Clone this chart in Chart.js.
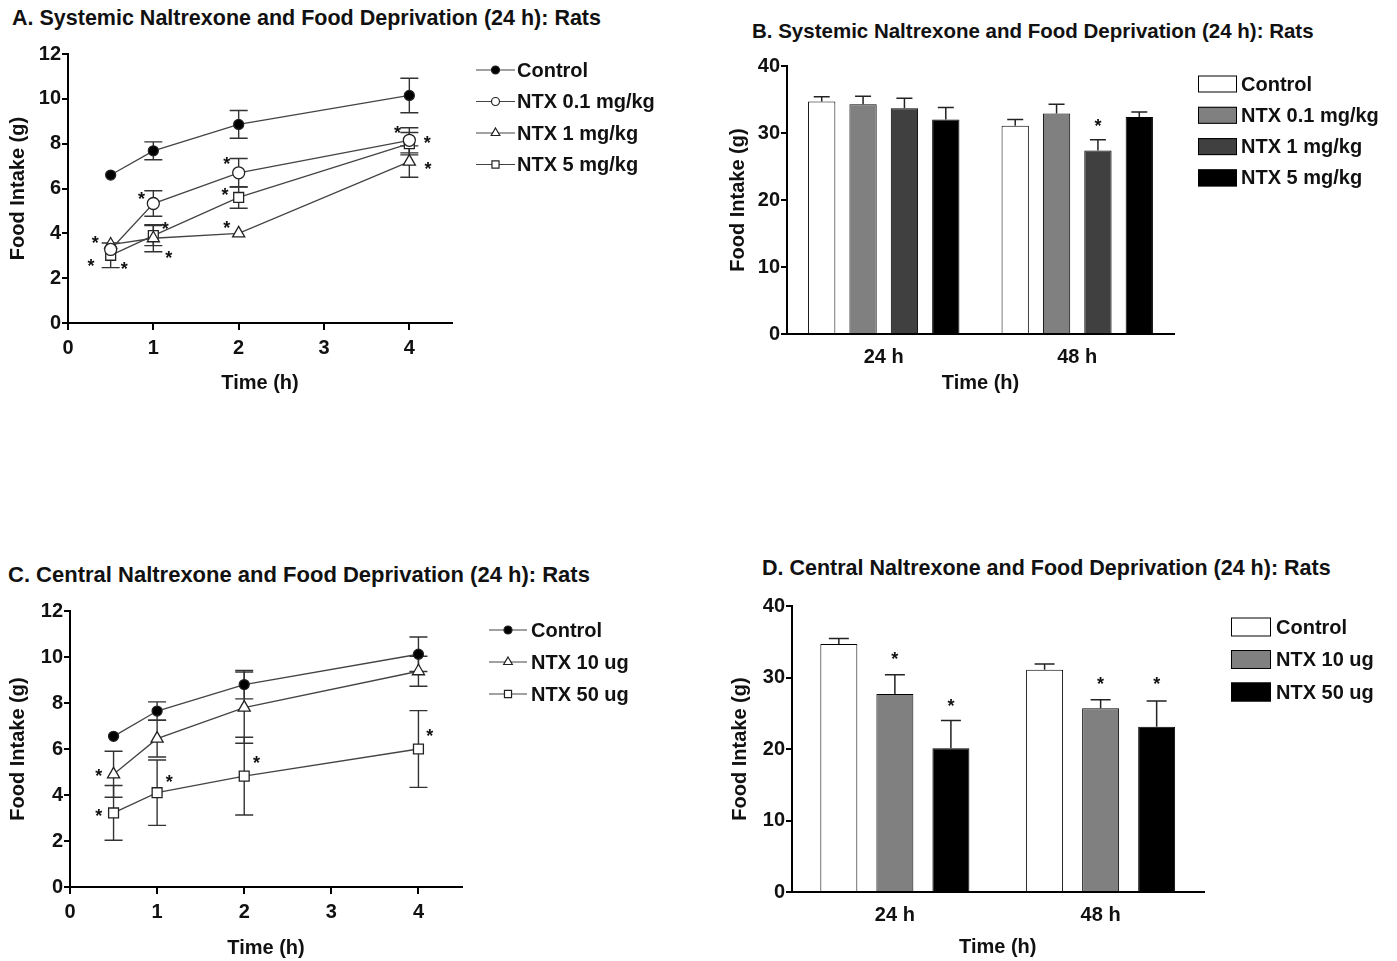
<!DOCTYPE html>
<html>
<head>
<meta charset="utf-8">
<script src="https://cdn.jsdelivr.net/npm/chart.js@4.4.1/dist/chart.umd.min.js"></script>
<style>
  body { margin: 0; background: #fff; width: 1397px; height: 961px; position: relative; overflow: hidden;
         font-family: "Liberation Sans", Arial, sans-serif; }
  canvas { position: absolute; }
  .ttl { position: absolute; font-weight: bold; white-space: nowrap; color: #111; line-height: 24px; }
</style>
</head>
<body>
<div class="ttl" style="left:12px;top:6px;font-size:21.5px">A. Systemic Naltrexone and Food Deprivation (24 h): Rats</div>
<div class="ttl" style="left:752px;top:19px;font-size:20.5px">B. Systemic Naltrexone and Food Deprivation (24 h): Rats</div>
<div class="ttl" style="left:8px;top:563px;font-size:22px">C. Central Naltrexone and Food Deprivation (24 h): Rats</div>
<div class="ttl" style="left:762px;top:556px;font-size:21.5px">D. Central Naltrexone and Food Deprivation (24 h): Rats</div>

<canvas id="chartA" width="700" height="360" style="left:0;top:40px"></canvas>
<canvas id="chartB" width="697" height="360" style="left:700px;top:40px"></canvas>
<canvas id="chartC" width="700" height="366" style="left:0;top:595px"></canvas>
<canvas id="chartD" width="697" height="376" style="left:700px;top:585px"></canvas>

<script>
// --- données ---
const timePoints = [0.5, 1, 2, 4];
const timeTicks = [0, 1, 2, 3, 4];
const lineYTicks = [0, 2, 4, 6, 8, 10, 12];
const barYTicks = [0, 10, 20, 30, 40];

// A. naltrexone systémique (courbe)
const aControl = [6.6, 7.68, 8.86, 10.15];
const aControlErr = [0, 0.4, 0.62, 0.77];
const aNtx01 = [3.28, 5.33, 6.7, 8.15];
const aNtx01Err = [0, 0.57, 0.64, 0.56];
const aNtx1 = [3.5, 3.78, 4.0, 7.2];
const aNtx1Err = [0, 0.6, 0, 0.7];
const aNtx5 = [3.02, 3.9, 5.6, 8.0];
const aNtx5Err = [0.55, 0.45, 0.48, 0.5];
const aStars = [[0.32, 3.78], [0.27, 2.75], [0.66, 2.62], [0.86, 5.74], [1.14, 4.4], [1.18, 3.1],
                [1.86, 7.3], [1.84, 5.92], [1.86, 4.45], [3.86, 8.65], [4.21, 8.2], [4.22, 7.08]];

// B. naltrexone systémique (barres)
const barCats = ['24 h', '48 h'];
const bControl = [34.7, 31.1];
const bControlErr = [0.7, 0.9];
const bNtx01 = [34.3, 32.9];
const bNtx01Err = [1.2, 1.4];
const bNtx1 = [33.7, 27.4];
const bNtx1Err = [1.5, 1.6];
const bNtx5 = [32.0, 32.4];
const bNtx5Err = [1.8, 0.75];
const bStars = [[2, 1, 31.7]];

// C. naltrexone centrale (courbe)
const cControl = [6.55, 7.65, 8.8, 10.12];
const cControlErr = [0, 0.4, 0.62, 0.75];
const cNtx10 = [4.9, 6.45, 7.8, 9.38];
const cNtx10Err = [1.0, 0.8, 1.55, 0.65];
const cNtx50 = [3.22, 4.1, 4.82, 6.0];
const cNtx50Err = [1.19, 1.42, 1.69, 1.67];
const cStars = [[0.33, 5.0], [0.33, 3.26], [1.14, 4.74], [2.14, 5.58], [4.13, 6.77]];

// D. naltrexone centrale (barres)
const dControl = [34.7, 31.1];
const dControlErr = [0.75, 0.8];
const dNtx10 = [27.7, 25.7];
const dNtx10Err = [2.7, 1.2];
const dNtx50 = [20.1, 23.1];
const dNtx50Err = [3.9, 3.6];
const dStars = [[1, 0, 33.2], [2, 0, 26.6], [1, 1, 29.75], [2, 1, 29.75]];

const FAMILY = '"Liberation Sans", Arial, sans-serif';
const boldFont = size => ({ family: FAMILY, size: size, weight: 'bold' });

function drawMarker(ctx, style, x, y, r, fill) {
    ctx.beginPath();
    if (style === 'triangle') {
        for (let k = 0; k < 3; k++) {
            const a = k * 2 * Math.PI / 3;
            const px = x + Math.sin(a) * r, py = y - Math.cos(a) * r;
            k ? ctx.lineTo(px, py) : ctx.moveTo(px, py);
        }
        ctx.closePath();
    } else if (style === 'rect') {
        const s = r * Math.SQRT1_2;
        ctx.rect(x - s, y - s, 2 * s, 2 * s);
    } else {
        ctx.arc(x, y, r, 0, Math.PI * 2);
    }
    ctx.fillStyle = fill;
    ctx.fill();
    ctx.lineWidth = 1.2;
    ctx.strokeStyle = '#222';
    ctx.stroke();
}

function drawStar(ctx, x, y) {
    ctx.font = 'bold 18px ' + FAMILY;
    ctx.fillStyle = '#111';
    ctx.textAlign = 'center';
    ctx.textBaseline = 'alphabetic';
    ctx.fillText('*', x, y + 0.57 * 18);
}

// barres d'erreur, astérisques et légende
const extras = {
    id: 'extras',
    beforeDatasetsDraw(chart, args, opts) {
        if (!opts.lineErrors) return;
        const ctx = chart.ctx, ys = chart.scales.y;
        ctx.save();
        ctx.strokeStyle = '#333';
        ctx.lineWidth = 1.4;
        opts.lineErrors.forEach((errs, i) => {
            const meta = chart.getDatasetMeta(i);
            errs.forEach((e, j) => {
                if (!e) return;
                const v = chart.data.datasets[i].data[j].y;
                const x = meta.data[j].x;
                const t = ys.getPixelForValue(v + e), b = ys.getPixelForValue(v - e);
                ctx.beginPath();
                ctx.moveTo(x, t); ctx.lineTo(x, b);
                ctx.moveTo(x - 9, t); ctx.lineTo(x + 9, t);
                ctx.moveTo(x - 9, b); ctx.lineTo(x + 9, b);
                ctx.stroke();
            });
        });
        ctx.restore();
    },
    afterDatasetsDraw(chart, args, opts) {
        const ctx = chart.ctx, xs = chart.scales.x, ys = chart.scales.y;
        ctx.save();
        if (opts.barErrors) {
            ctx.strokeStyle = '#222';
            ctx.lineWidth = 1.5;
            opts.barErrors.forEach((errs, i) => {
                const meta = chart.getDatasetMeta(i);
                errs.forEach((e, j) => {
                    const el = meta.data[j];
                    const v = chart.data.datasets[i].data[j];
                    const t = ys.getPixelForValue(v + e);
                    ctx.beginPath();
                    ctx.moveTo(el.x, el.y); ctx.lineTo(el.x, t);
                    ctx.moveTo(el.x - opts.cap, t); ctx.lineTo(el.x + opts.cap, t);
                    ctx.stroke();
                });
            });
        }
        (opts.stars || []).forEach(s => drawStar(ctx, xs.getPixelForValue(s[0]), ys.getPixelForValue(s[1])));
        (opts.barStars || []).forEach(s => {
            const el = chart.getDatasetMeta(s[0]).data[s[1]];
            drawStar(ctx, el.x, ys.getPixelForValue(s[2]));
        });

        const lg = opts.legend;
        if (lg) {
            ctx.font = 'bold 20px ' + FAMILY;
            ctx.textAlign = 'left';
            ctx.textBaseline = 'middle';
            chart.data.datasets.forEach((ds, i) => {
                const y = lg.y + i * lg.dy;
                if (lg.kind === 'line') {
                    ctx.strokeStyle = '#444';
                    ctx.lineWidth = 1.2;
                    ctx.beginPath();
                    ctx.moveTo(lg.x1, y); ctx.lineTo(lg.x2, y);
                    ctx.stroke();
                    drawMarker(ctx, ds.pointStyle, (lg.x1 + lg.x2) / 2, y, ds.pointStyle === 'circle' ? 4 : 5, ds.pointBackgroundColor);
                } else {
                    ctx.fillStyle = ds.backgroundColor;
                    ctx.fillRect(lg.x1, y - lg.h / 2, lg.x2 - lg.x1, lg.h);
                    ctx.strokeStyle = '#000';
                    ctx.lineWidth = 1;
                    ctx.strokeRect(lg.x1 + 0.5, y - lg.h / 2 + 0.5, lg.x2 - lg.x1 - 1, lg.h - 1);
                }
                ctx.fillStyle = '#111';
                ctx.fillText(ds.label, lg.tx, y + 1);
            });
        }
        ctx.restore();
    }
};

function lineSet(label, ys, style, radius, fill) {
    return {
        label: label,
        data: timePoints.map((t, i) => ({ x: t, y: ys[i] })),
        borderColor: '#444',
        borderWidth: 1.3,
        pointStyle: style,
        pointRadius: radius,
        pointBackgroundColor: fill,
        pointBorderColor: '#222',
        pointBorderWidth: 1.3,
        tension: 0
    };
}

function barSet(label, vals, color) {
    return { label: label, data: vals, backgroundColor: color, borderColor: '#000', borderWidth: 1 };
}

function axisStyle(tickLength) {
    return {
        grid: { display: tickLength > 0, drawOnChartArea: false, drawTicks: tickLength > 0, tickLength: tickLength, color: '#000', lineWidth: 2 },
        border: { display: true, color: '#000', width: 2 }
    };
}

function makeLineChart(id, datasets, errors, stars, box, legend) {
    new Chart(document.getElementById(id), {
        type: 'line',
        data: { datasets: datasets },
        options: {
            responsive: false,
            animation: false,
            layout: { padding: { top: box.top, right: box.right, left: 0, bottom: 0 } },
            plugins: {
                legend: { display: false },
                tooltip: { enabled: false },
                extras: { lineErrors: errors, stars: stars, legend: legend }
            },
            scales: {
                x: {
                    type: 'linear', min: 0, max: 4.5,
                    ...axisStyle(7),
                    afterBuildTicks: s => { s.ticks = timeTicks.map(v => ({ value: v })); },
                    afterFit: s => { s.height = box.xh; },
                    ticks: { font: boldFont(20), color: '#111', padding: 6 },
                    title: { display: true, text: 'Time (h)', font: boldFont(20), color: '#111', padding: { top: 0, bottom: box.xt } }
                },
                y: {
                    min: 0, max: 12,
                    ...axisStyle(6),
                    afterBuildTicks: s => { s.ticks = lineYTicks.map(v => ({ value: v })); },
                    afterFit: s => { s.width = box.yw; },
                    ticks: { font: boldFont(20), color: '#111', padding: 1 },
                    title: { display: true, text: 'Food Intake (g)', font: boldFont(20), color: '#111', padding: { top: box.yt, bottom: 0 } }
                }
            }
        },
        plugins: [extras]
    });
}

function makeBarChart(id, datasets, errors, stars, box, legend) {
    new Chart(document.getElementById(id), {
        type: 'bar',
        data: { labels: barCats, datasets: datasets },
        options: {
            responsive: false,
            animation: false,
            categoryPercentage: box.cat,
            barPercentage: 0.66,
            layout: { padding: { top: box.top, right: box.right, left: 0, bottom: 0 } },
            plugins: {
                legend: { display: false },
                tooltip: { enabled: false },
                extras: { barErrors: errors, cap: box.cap, barStars: stars, legend: legend }
            },
            scales: {
                x: {
                    ...axisStyle(0),
                    afterFit: s => { s.height = box.xh; },
                    ticks: { font: boldFont(20), color: '#111', padding: 11 },
                    title: { display: true, text: 'Time (h)', font: boldFont(20), color: '#111', padding: { top: 0, bottom: box.xt } }
                },
                y: {
                    min: 0, max: 40,
                    ...axisStyle(6),
                    afterBuildTicks: s => { s.ticks = barYTicks.map(v => ({ value: v })); },
                    afterFit: s => { s.width = box.yw; },
                    ticks: { font: boldFont(20), color: '#111', padding: 1 },
                    title: { display: true, text: 'Food Intake (g)', font: boldFont(20), color: '#111', padding: { top: box.yt, bottom: 0 } }
                }
            }
        },
        plugins: [extras]
    });
}

makeLineChart('chartA', [
    lineSet('Control', aControl, 'circle', 5, '#000'),
    lineSet('NTX 0.1 mg/kg', aNtx01, 'circle', 6, '#fff'),
    lineSet('NTX 1 mg/kg', aNtx1, 'triangle', 7, '#fff'),
    lineSet('NTX 5 mg/kg', aNtx5, 'rect', 7, '#fff')
], [aControlErr, aNtx01Err, aNtx1Err, aNtx5Err], aStars,
   { top: 14, right: 248, xh: 77, yw: 68, xt: 5, yt: 6 },
   { kind: 'line', x1: 476, x2: 515, tx: 517, y: 30, dy: 31.5 });

makeBarChart('chartB', [
    barSet('Control', bControl, '#ffffff'),
    barSet('NTX 0.1 mg/kg', bNtx01, '#808080'),
    barSet('NTX 1 mg/kg', bNtx1, '#404040'),
    barSet('NTX 5 mg/kg', bNtx5, '#000000')
], [bControlErr, bNtx01Err, bNtx1Err, bNtx5Err], bStars,
   { top: 26, right: 223, xh: 66, yw: 87, xt: 5, yt: 26, cat: 0.855, cap: 8 },
   { kind: 'box', x1: 498, x2: 537, h: 17, tx: 541, y: 44, dy: 31.3 });

makeLineChart('chartC', [
    lineSet('Control', cControl, 'circle', 5, '#000'),
    lineSet('NTX 10 ug', cNtx10, 'triangle', 7, '#fff'),
    lineSet('NTX 50 ug', cNtx50, 'rect', 7, '#fff')
], [cControlErr, cNtx10Err, cNtx50Err], cStars,
   { top: 16, right: 238, xh: 74, yw: 70, xt: 1, yt: 6 },
   { kind: 'line', x1: 489, x2: 527, tx: 531, y: 35, dy: 32 });

makeBarChart('chartD', [
    barSet('Control', dControl, '#ffffff'),
    barSet('NTX 10 ug', dNtx10, '#808080'),
    barSet('NTX 50 ug', dNtx50, '#000000')
], [dControlErr, dNtx10Err, dNtx50Err], dStars,
   { top: 21, right: 193.5, xh: 69, yw: 92, xt: 2, yt: 28, cat: 0.817, cap: 10 },
   { kind: 'box', x1: 531, x2: 571, h: 19, tx: 576, y: 42, dy: 32.5 });
</script>
</body>
</html>
